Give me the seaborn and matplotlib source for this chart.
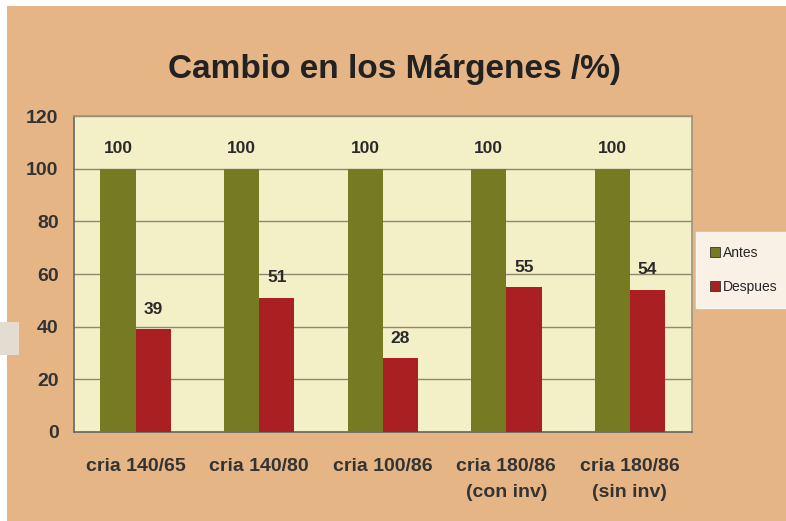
import matplotlib
matplotlib.use("Agg")
import matplotlib.pyplot as plt
import matplotlib.patches as mpatches
import pandas as pd
import seaborn as sns

# Data
categories = ["cria 140/65", "cria 140/80", "cria 100/86",
              "cria 180/86\n(con inv)", "cria 180/86\n(sin inv)"]
antes = [100, 100, 100, 100, 100]
despues = [39, 51, 28, 55, 54]
series_names = ["Antes", "Despues"]
yticks = [0, 20, 40, 60, 80, 100, 120]

bg_color = "#E6B586"
plot_bg = "#F3EFC6"
colors = {"Antes": "#767A22", "Despues": "#A91F22"}

df = pd.DataFrame({
    "categoria": categories * 2,
    "serie": ["Antes"] * len(categories) + ["Despues"] * len(categories),
    "valor": antes + despues,
})

sns.set_theme(style="white")
plt.rcParams["font.family"] = ["Liberation Sans", "DejaVu Sans"]

fig = plt.figure(figsize=(7.86, 5.21), dpi=100)
fig.patch.set_facecolor(bg_color)

# white / grey edges of the scanned picture
fig.patches.append(mpatches.Rectangle((0, 0.988), 1, 0.012, transform=fig.transFigure,
                                      facecolor="white", edgecolor="none", zorder=-1))
fig.patches.append(mpatches.Rectangle((0, 0), 0.009, 1, transform=fig.transFigure,
                                      facecolor="white", edgecolor="none", zorder=-1))
fig.patches.append(mpatches.Rectangle((0, 0.319), 0.024, 0.063, transform=fig.transFigure,
                                      facecolor="#E4DCD0", edgecolor="none", zorder=-1))

# axes: x 74..692 px, y 116..432 px
ax = fig.add_axes([0.094, 0.171, 0.786, 0.606])
ax.set_facecolor(plot_bg)

sns.barplot(data=df, x="categoria", y="valor", hue="serie", palette=colors,
            width=0.57, saturation=1, linewidth=0, ax=ax, legend=False, zorder=3)

for container in ax.containers:
    ax.bar_label(container, padding=9, fontsize=12.5, color="#2A2A2A", fontweight="semibold")

ax.set_ylim(0, 120)
ax.set_yticks(yticks)
ax.set_xlim(-0.5, len(categories) - 0.5)
ax.grid(axis="y", color="#8E8872", linewidth=1, zorder=0)
ax.set_axisbelow(True)
ax.tick_params(axis="y", length=5, color="#777777", labelsize=14, labelcolor="#333333", pad=6)
ax.tick_params(axis="x", length=0, labelsize=14, labelcolor="#333333", pad=19)
for lbl in ax.get_xticklabels():
    lbl.set_fontweight("bold")
    lbl.set_linespacing(1.65)
for lbl in ax.get_yticklabels():
    lbl.set_fontweight("bold")
ax.set_xlabel("")
ax.set_ylabel("")
for side in ["top", "right"]:
    ax.spines[side].set_color("#9A9480")
for side in ["left", "bottom"]:
    ax.spines[side].set_color("#666666")
for sp in ax.spines.values():
    sp.set_linewidth(1.2)

fig.text(0.502, 0.866, "Cambio en los Márgenes /%)", ha="center", va="center",
         fontsize=24, fontweight="bold", color="#222222")

handles = [mpatches.Patch(facecolor=colors[s], edgecolor="#333333", linewidth=0.6) for s in series_names]
leg = fig.legend(handles, series_names, loc="upper left", bbox_to_anchor=(0.8855, 0.555),
                 frameon=True, fancybox=False, fontsize=10, handlelength=0.75, handleheight=0.75,
                 handletextpad=0.2, borderpad=1.0, labelspacing=1.45, borderaxespad=0)
leg.get_frame().set_facecolor("white")
leg.get_frame().set_edgecolor("white")

fig.savefig("out.png", dpi=100, facecolor=fig.get_facecolor())
